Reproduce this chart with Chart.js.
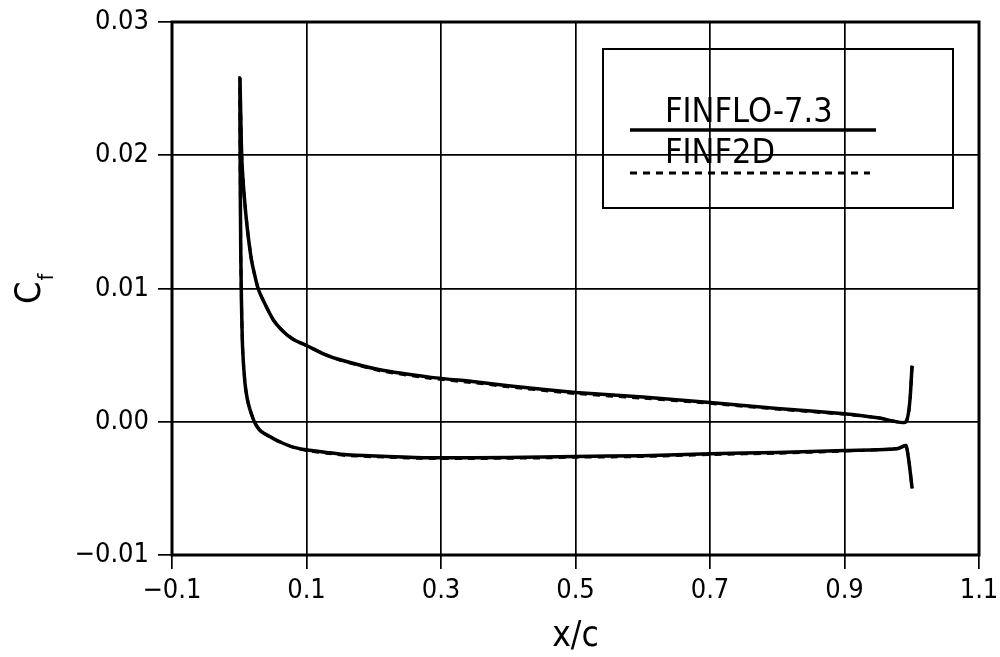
<!DOCTYPE html>
<html>
<head>
<meta charset="utf-8">
<script src="https://cdn.jsdelivr.net/npm/chart.js@4/dist/chart.umd.min.js"></script>
<style>
  body { margin: 0; background: #fff; }
  #wrap { width: 1000px; height: 657px; }
</style>
</head>
<body>
<div id="wrap"><canvas id="cfChart" width="1000" height="657"></canvas></div>
<script>
// skin friction along the chord
// upper branch (the one that peaks at the leading edge and decays)
let xUpper = [0.0010, 0.0036, 0.0070, 0.0120, 0.0180, 0.0230, 0.0280, 0.0357, 0.0505, 0.0654,
  0.0800, 0.1010, 0.1250, 0.1500, 0.2090, 0.2830, 0.3500, 0.4000, 0.5000, 0.6000,
  0.7000, 0.8000, 0.9000, 0.9500, 0.9917, 1.0006]
let cfUpperFinflo = [0.0258, 0.0200, 0.0172, 0.0145, 0.0122, 0.0110, 0.0100, 0.0091, 0.00766, 0.00678,
  0.0062, 0.0057, 0.0051, 0.00465, 0.0039, 0.00335, 0.0030, 0.0027, 0.0022, 0.00185,
  0.00145, 0.0010, 0.0006, 0.0003, 0.00002, 0.0042]
let cfUpperFinf2d = [0.0258, 0.0200, 0.0172, 0.0145, 0.0122, 0.0110, 0.0100, 0.0091, 0.00766, 0.00678,
  0.0062, 0.0057, 0.0051, 0.00462, 0.00383, 0.00327, 0.00292, 0.00262, 0.00212, 0.00177,
  0.00138, 0.00095, 0.00056, 0.0003, 0.00002, 0.0042]

// lower branch (drops to negative values just behind the leading edge)
let xLower = [0.0010, 0.0013, 0.0022, 0.0033, 0.0050, 0.0085, 0.0120, 0.0160, 0.0233, 0.0300,
  0.0360, 0.0450, 0.0600, 0.0800, 0.1000, 0.1300, 0.1600, 0.2200, 0.2830, 0.3500,
  0.4500, 0.5000, 0.6000, 0.7000, 0.8000, 0.9000, 0.9500, 0.9800, 0.9917, 1.0006]
let cfLowerFinflo = [0.0258, 0.0200, 0.0130, 0.0090, 0.0055, 0.0029, 0.0017, 0.0009, -0.0001, -0.0006,
  -0.00085, -0.0011, -0.0015, -0.0019, -0.0021, -0.0023, -0.00248, -0.0026, -0.0027, -0.0027,
  -0.00265, -0.0026, -0.00255, -0.0024, -0.0023, -0.00215, -0.0021, -0.0020, -0.0018, -0.0050]
let cfLowerFinf2d = [0.0258, 0.0200, 0.0130, 0.0090, 0.0055, 0.0029, 0.0017, 0.0009, -0.0001, -0.0006,
  -0.00085, -0.0011, -0.0015, -0.0019, -0.00216, -0.00236, -0.00254, -0.00266, -0.00276, -0.00276,
  -0.00271, -0.00266, -0.00261, -0.00246, -0.00236, -0.0022, -0.0021, -0.0020, -0.0018, -0.0050]

let seriesNames = ['FINFLO-7.3', 'FINF2D']

let xTicks = [-0.1, 0.1, 0.3, 0.5, 0.7, 0.9, 1.1]
let yTicks = [-0.01, 0.00, 0.01, 0.02, 0.03]

// one path per solver: trailing edge upper -> leading edge -> trailing edge lower
function buildPath(cfUp, cfLow) {
  let pts = []
  for (let i = xUpper.length - 1; i >= 0; i--) pts.push({ x: xUpper[i], y: cfUp[i] })
  for (let i = 1; i < xLower.length; i++) pts.push({ x: xLower[i], y: cfLow[i] })
  return pts
}

const FONT = '"DejaVu Sans Condensed", "DejaVu Sans", sans-serif'
const minus = s => s.replace('-', '\u2212')

// frame, axis titles and the boxed legend
const decorations = {
  id: 'decorations',
  afterDraw(chart) {
    const ctx = chart.ctx
    const a = chart.chartArea
    ctx.save()
    ctx.strokeStyle = '#000'
    ctx.lineWidth = 3
    ctx.strokeRect(a.left, a.top, a.right - a.left, a.bottom - a.top)

    ctx.fillStyle = '#000'
    ctx.textAlign = 'center'
    ctx.textBaseline = 'alphabetic'
    ctx.font = '35px ' + FONT
    ctx.fillText('x/c', (a.left + a.right) / 2, 646)

    // C_f, rotated
    ctx.save()
    ctx.translate(40, 304)
    ctx.rotate(-Math.PI / 2)
    ctx.textAlign = 'left'
    ctx.font = '36px ' + FONT
    ctx.fillText('C', 0, 0)
    const cw = ctx.measureText('C').width
    ctx.font = '22px ' + FONT
    ctx.fillText('f', cw + 1, 13)
    ctx.restore()

    // legend box
    ctx.lineWidth = 2
    ctx.strokeRect(603, 49, 350, 159)
    ctx.textAlign = 'left'
    ctx.font = '34px ' + FONT
    ctx.fillText(seriesNames[0], 665, 122)
    ctx.fillText(seriesNames[1], 665, 163)
    const ds = chart.data.datasets
    ctx.lineWidth = ds[1].borderWidth
    ctx.strokeStyle = ds[1].borderColor
    ctx.beginPath()
    ctx.moveTo(630, 130)
    ctx.lineTo(876, 130)
    ctx.stroke()
    ctx.lineWidth = ds[0].borderWidth
    ctx.setLineDash(ds[0].borderDash)
    ctx.beginPath()
    ctx.moveTo(630, 173)
    ctx.lineTo(870, 173)
    ctx.stroke()
    ctx.restore()
  }
}

new Chart(document.getElementById('cfChart'), {
  type: 'scatter',
  data: {
    datasets: [
      {
        label: seriesNames[1],
        data: buildPath(cfUpperFinf2d, cfLowerFinf2d),
        showLine: true,
        borderColor: '#000',
        borderWidth: 3,
        borderDash: [7, 6],
        pointRadius: 0,
        tension: 0.2
      },
      {
        label: seriesNames[0],
        data: buildPath(cfUpperFinflo, cfLowerFinflo),
        showLine: true,
        borderColor: '#000',
        borderWidth: 3.5,
        pointRadius: 0,
        tension: 0.2
      }
    ]
  },
  options: {
    responsive: false,
    animation: false,
    layout: { padding: { top: 22, right: 21, left: 0, bottom: 0 } },
    plugins: { legend: { display: false }, tooltip: { enabled: false } },
    scales: {
      x: {
        type: 'linear',
        min: xTicks[0],
        max: xTicks[xTicks.length - 1],
        afterBuildTicks: s => { s.ticks = xTicks.map(v => ({ value: v })) },
        afterFit: s => { s.height = 102; s.paddingLeft = 0; s.paddingRight = 0 },
        grid: { color: '#000', lineWidth: 1.7, tickLength: 14, tickColor: '#000' },
        border: { display: false },
        ticks: {
          color: '#000',
          padding: 6,
          maxRotation: 0,
          font: { family: FONT, size: 27 },
          callback: v => minus(v.toFixed(1))
        }
      },
      y: {
        type: 'linear',
        min: yTicks[0],
        max: yTicks[yTicks.length - 1],
        afterBuildTicks: s => { s.ticks = yTicks.map(v => ({ value: v })) },
        afterFit: s => { s.width = 172; s.paddingTop = 0; s.paddingBottom = 0 },
        grid: { color: '#000', lineWidth: 1.7, tickLength: 14, tickColor: '#000' },
        border: { display: false },
        ticks: {
          color: '#000',
          padding: 9,
          font: { family: FONT, size: 27 },
          callback: v => minus(v.toFixed(2))
        }
      }
    }
  },
  plugins: [decorations]
})
</script>
</body>
</html>
